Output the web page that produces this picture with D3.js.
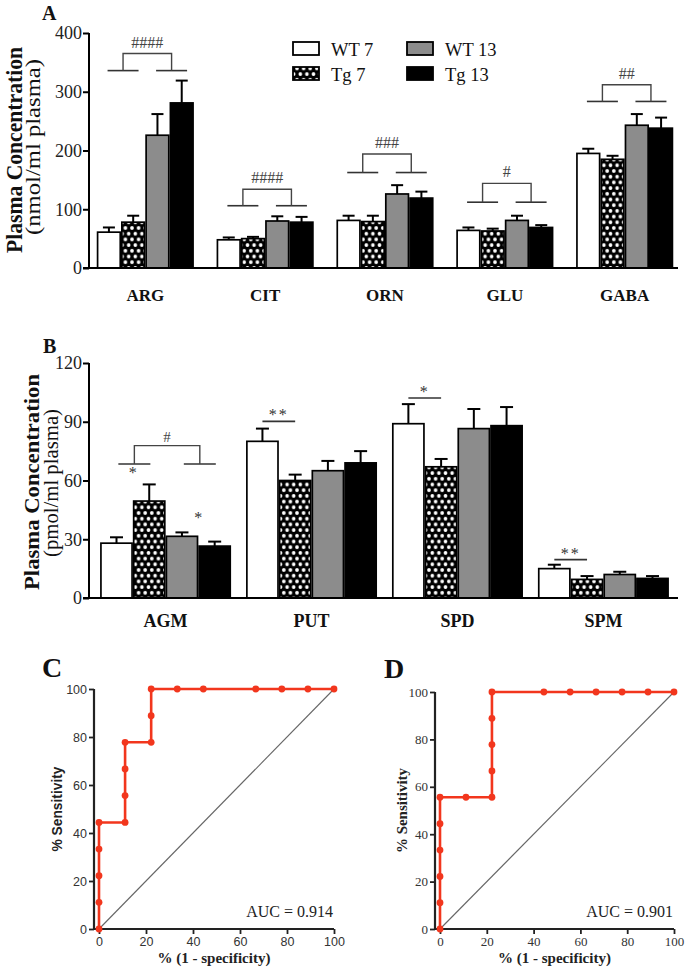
<!DOCTYPE html>
<html><head><meta charset="utf-8">
<script src="https://cdn.jsdelivr.net/npm/d3@7"></script>
<style>body{margin:0;background:#fff}</style>
</head><body>
<svg id="c" width="685" height="973"></svg>
<script>
// ---------- DATA ----------
const seriesNames = ["WT 7", "Tg 7", "WT 13", "Tg 13"];

const aminoCats = ["ARG", "CIT", "ORN", "GLU", "GABA"];
const aminoWT7  = [61, 48, 81, 64, 195];
const aminoTg7  = [78, 50, 79, 63, 185];
const aminoWT13 = [226, 80, 126, 81, 243];
const aminoTg13 = [281, 78, 119, 69, 238];
const aminoWT7Err  = [8, 4, 8, 5, 8];
const aminoTg7Err  = [11, 3, 10, 4, 6];
const aminoWT13Err = [36, 8, 15, 8, 19];
const aminoTg13Err = [38, 9, 11, 4, 18];
const aminoTicks = [0, 100, 200, 300, 400];
const aminoBracketLow  = [336, 106, 162.5, 112, 283.5];
const aminoBracketHigh = [365, 134, 194, 144, 312];
const aminoBracketLabels = ["####", "####", "###", "#", "##"];

const polyCats = ["AGM", "PUT", "SPD", "SPM"];
const polyWT7  = [28, 80, 89, 15];
const polyTg7  = [49.5, 60, 67, 9.5];
const polyWT13 = [31.5, 65, 86.5, 12];
const polyTg13 = [26.5, 69, 88, 10];
const polyWT7Err  = [3, 6.5, 10, 2];
const polyTg7Err  = [8.5, 3, 4, 1.7];
const polyWT13Err = [2, 5, 10, 1.4];
const polyTg13Err = [2.3, 6, 9.5, 1.2];
const polyTicks = [0, 30, 60, 90, 120];
// AGM bracket (#) and stars
const polyBracketCat = "AGM", polyBracketLow = 68.4, polyBracketHigh = 77.8, polyBracketLabel = "#";
const polyPairStarCats = ["AGM", "AGM"], polyPairStarPairs = [0, 1], polyPairStarVals = [64.6, 41.7];
const polyLineCats = ["PUT", "SPD", "SPM"], polyLineVals = [90.2, 102.1, 19.6], polyLineLabels = ["**", "*", "**"];

const rocTicks = [0, 20, 40, 60, 80, 100];
const rocC_fpr = [0, 0, 0, 0, 0, 11.1, 11.1, 11.1, 11.1, 22.2, 22.2, 22.2, 33.3, 44.4, 66.7, 77.8, 88.9, 100];
const rocC_tpr = [0, 11.1, 22.2, 33.3, 44.4, 44.4, 55.6, 66.7, 77.8, 77.8, 88.9, 100, 100, 100, 100, 100, 100, 100];
const rocD_fpr = [0, 0, 0, 0, 0, 0, 11.1, 22.2, 22.2, 22.2, 22.2, 22.2, 44.4, 55.6, 66.7, 77.8, 88.9, 100];
const rocD_tpr = [0, 11.1, 22.2, 33.3, 44.4, 55.6, 55.6, 55.6, 66.7, 77.8, 88.9, 100, 100, 100, 100, 100, 100, 100];
const aucC = "AUC = 0.914", aucD = "AUC = 0.901";

// ---------- DRAWING ----------
const SERIF = "'Liberation Serif','Times New Roman',serif";
const SANS = "'Liberation Sans',Arial,sans-serif";
const svg = d3.select("#c");
const defs = svg.append("defs");
const pw = 6.6, ph = 11.4;
const pat = defs.append("pattern").attr("id", "hatch").attr("patternUnits", "userSpaceOnUse")
  .attr("width", pw).attr("height", ph);
pat.append("rect").attr("width", pw).attr("height", ph).attr("fill", "#000");
[[0,0],[pw,0],[0,ph],[pw,ph],[pw/2,ph/2]].forEach(([cx,cy]) =>
  pat.append("circle").attr("cx", cx).attr("cy", cy).attr("r", 1.85).attr("fill", "#fff"));
const flt = defs.append("filter").attr("id", "soft").attr("x", "-20%").attr("y", "-300%")
  .attr("width", "140%").attr("height", "700%");
flt.append("feGaussianBlur").attr("stdDeviation", 1.6);

const fills = ["#fff", "url(#hatch)", "#8c8c8c", "#000"];

function shadowLine(g, xa, xb, yv) {
  g.append("line").attr("x1", xa).attr("x2", xb).attr("y1", yv + 3).attr("y2", yv + 3)
    .attr("stroke", "#bbb").attr("stroke-width", 2.5).attr("filter", "url(#soft)");
  g.append("line").attr("x1", xa).attr("x2", xb).attr("y1", yv).attr("y2", yv)
    .attr("stroke", "#333").attr("stroke-width", 1.6);
}

function barPanel(o) {
  const g = svg.append("g");
  const y = d3.scaleLinear().domain([0, o.ticks[o.ticks.length - 1]]).range(o.yRange);
  const x0 = d3.scaleBand().domain(o.cats).range(o.xRange).paddingInner(o.padIn).paddingOuter(o.padOut);
  const x1 = d3.scaleBand().domain(d3.range(o.series.length)).range([0, x0.bandwidth()]);
  const bw = x1.bandwidth();
  o.cats.forEach((c, i) => {
    o.series.forEach((s, j) => {
      const bx = x0(c) + x1(j);
      const top = y(s[i]);
      const et = y(s[i] + o.errs[j][i]);
      const cx = bx + bw / 2;
      g.append("line").attr("x1", cx).attr("x2", cx).attr("y1", top).attr("y2", et)
        .attr("stroke", "#000").attr("stroke-width", 2);
      g.append("line").attr("x1", cx - o.capW / 2).attr("x2", cx + o.capW / 2).attr("y1", et).attr("y2", et)
        .attr("stroke", "#000").attr("stroke-width", 2);
      g.append("rect").attr("x", bx + 0.8).attr("y", top).attr("width", bw - 1.6).attr("height", y(0) - top)
        .attr("fill", fills[j]).attr("stroke", "#000").attr("stroke-width", 1.7);
    });
    g.append("text").attr("x", x0(c) + x0.bandwidth() / 2).attr("y", o.catY)
      .attr("text-anchor", "middle").attr("font-family", SERIF).attr("font-weight", "bold")
      .attr("font-size", o.catSize).attr("fill", "#111").text(c);
  });
  const ya = d3.axisLeft(y).tickValues(o.ticks).tickSize(6).tickPadding(1).tickSizeOuter(0);
  const ag = g.append("g").attr("transform", `translate(${o.axisX},0)`).call(ya);
  ag.select(".domain").remove();
  ag.selectAll(".tick line").attr("stroke", "#000").attr("stroke-width", 2);
  ag.selectAll(".tick text").attr("font-family", SERIF).attr("font-size", o.tickSize).attr("fill", "#222");
  g.append("line").attr("x1", o.axisX).attr("x2", o.axisX).attr("y1", y(o.ticks[o.ticks.length - 1])).attr("y2", y(0) + 1)
    .attr("stroke", "#000").attr("stroke-width", 2);
  g.append("line").attr("x1", o.axisX - 6).attr("x2", o.axisEnd).attr("y1", y(0)).attr("y2", y(0))
    .attr("stroke", "#000").attr("stroke-width", 2);
  o.ylabels.forEach(l => {
    g.append("text").attr("transform", `translate(${l.x},${l.y}) rotate(-90)`).attr("text-anchor", "middle")
      .attr("font-family", SERIF).attr("font-weight", l.bold ? "bold" : "normal").attr("font-size", l.size)
      .attr("textLength", l.len).attr("lengthAdjust", "spacingAndGlyphs").attr("fill", "#111").text(l.t);
  });
  g.append("text").attr("x", o.letter.x).attr("y", o.letter.y).attr("font-family", SERIF).attr("font-weight", "bold")
    .attr("font-size", o.letter.size).attr("fill", "#111").text(o.letter.t);
  return { g, y, x0, x1, bw };
}

// ----- Panel A -----
const A = barPanel({
  cats: aminoCats, series: [aminoWT7, aminoTg7, aminoWT13, aminoTg13],
  errs: [aminoWT7Err, aminoTg7Err, aminoWT13Err, aminoTg13Err],
  ticks: aminoTicks, yRange: [268, 33], xRange: [86, 684], padIn: 0.19, padOut: 0.09,
  axisX: 89, axisEnd: 678, capW: 12, catY: 301, catSize: 17, tickSize: 18,
  ylabels: [{ t: "Plasma Concentration", x: 22, y: 150, size: 23, len: 206, bold: true },
            { t: "(nmol/ml plasma)", x: 40, y: 147, size: 21, len: 176, bold: false }],
  letter: { t: "A", x: 42, y: 20, size: 20 }
});
aminoCats.forEach((c, i) => {
  const { g, y, x0, bw } = A;
  const half = 15.5;
  const c0 = x0(c) + bw + 2, c1 = x0(c) + 3 * bw + 2;
  const yl = y(aminoBracketLow[i]), yh = y(aminoBracketHigh[i]);
  shadowLine(g, c0 - half, c0 + half, yl);
  shadowLine(g, c1 - half, c1 + half, yl);
  g.append("path").attr("d", `M${c0},${yl}V${yh}H${c1}V${yl}`).attr("fill", "none")
    .attr("stroke", "#444").attr("stroke-width", 1.4);
  g.append("text").attr("x", (c0 + c1) / 2).attr("y", yh - 6).attr("text-anchor", "middle")
    .attr("font-family", SERIF).attr("font-size", 16).attr("fill", "#444").text(aminoBracketLabels[i]);
});
const legX = [293, 407], legY = [42, 67];
seriesNames.forEach((s, j) => {
  const col = j < 2 ? 0 : 1, row = j % 2;
  A.g.append("rect").attr("x", legX[col]).attr("y", legY[row]).attr("width", 26).attr("height", 13)
    .attr("fill", fills[j]).attr("stroke", "#000").attr("stroke-width", 1.8);
  A.g.append("text").attr("x", legX[col] + 38).attr("y", legY[row] + 13.5).attr("font-family", SERIF)
    .attr("font-size", 18.5).attr("fill", "#111").text(s);
});

// ----- Panel B -----
const B = barPanel({
  cats: polyCats, series: [polyWT7, polyTg7, polyWT13, polyTg13],
  errs: [polyWT7Err, polyTg7Err, polyWT13Err, polyTg13Err],
  ticks: polyTicks, yRange: [598, 363], xRange: [87, 682], padIn: 0.103, padOut: 0.09,
  axisX: 89, axisEnd: 678, capW: 13, catY: 627, catSize: 18, tickSize: 18,
  ylabels: [{ t: "Plasma Concentration", x: 39, y: 482, size: 21, len: 216, bold: true },
            { t: "(pmol/ml plasma)", x: 58, y: 483, size: 20, len: 148, bold: false }],
  letter: { t: "B", x: 43, y: 353, size: 20 }
});
{
  const { g, y, x0, bw } = B;
  const half = 16;
  const c = polyBracketCat;
  const c0 = x0(c) + bw + 1.5, c1 = x0(c) + 3 * bw + 1.5;
  const yl = y(polyBracketLow), yh = y(polyBracketHigh);
  shadowLine(g, c0 - half, c0 + half, yl);
  shadowLine(g, c1 - half, c1 + half, yl);
  g.append("path").attr("d", `M${c0},${yl}V${yh}H${c1}V${yl}`).attr("fill", "none")
    .attr("stroke", "#444").attr("stroke-width", 1.4);
  g.append("text").attr("x", (c0 + c1) / 2).attr("y", yh - 4).attr("text-anchor", "middle")
    .attr("font-family", SERIF).attr("font-size", 15).attr("fill", "#444").text(polyBracketLabel);
  polyPairStarCats.forEach((pc, k) => {
    const cx = x0(pc) + (2 * polyPairStarPairs[k] + 1) * bw;
    g.append("text").attr("x", cx).attr("y", y(polyPairStarVals[k]) + 7).attr("text-anchor", "middle")
      .attr("font-family", SERIF).attr("font-size", 16).attr("fill", "#333").text("*");
  });
  polyLineCats.forEach((pc, k) => {
    const xa = x0(pc) + bw / 2, xb = x0(pc) + 1.5 * bw;
    const yv = y(polyLineVals[k]);
    shadowLine(g, xa, xb, yv);
    g.append("text").attr("x", (xa + xb) / 2).attr("y", yv - 1).attr("text-anchor", "middle")
      .attr("font-family", SERIF).attr("font-size", 16).attr("letter-spacing", 2).attr("fill", "#333")
      .text(polyLineLabels[k]);
  });
}

// ----- ROC panels -----
function rocPanel(o) {
  const g = svg.append("g");
  const x = d3.scaleLinear().domain([0, 100]).range(o.xr);
  const y = d3.scaleLinear().domain([0, 100]).range(o.yr);
  const ax0 = o.xr[0] - 5;
  g.append("line").attr("x1", x(0)).attr("y1", y(0)).attr("x2", x(100)).attr("y2", y(100))
    .attr("stroke", "#666").attr("stroke-width", 1.1);
  const ya = d3.axisLeft(y).tickValues(rocTicks).tickSize(5).tickPadding(2).tickSizeOuter(0);
  const yg = g.append("g").attr("transform", `translate(${ax0},0)`).call(ya);
  const xa = d3.axisBottom(x).tickValues(rocTicks).tickSize(5).tickPadding(3).tickSizeOuter(0);
  const xg = g.append("g").attr("transform", `translate(0,${y(0)})`).call(xa);
  [yg, xg].forEach(a => {
    a.select(".domain").remove();
    a.selectAll(".tick line").attr("stroke", "#222").attr("stroke-width", 1.8);
    a.selectAll(".tick text").attr("font-family", o.tickFont).attr("font-size", o.tickSize).attr("fill", "#333");
  });
  g.append("line").attr("x1", ax0).attr("x2", ax0).attr("y1", y(100)).attr("y2", y(0) + 1)
    .attr("stroke", "#222").attr("stroke-width", 2.2);
  g.append("line").attr("x1", ax0).attr("x2", x(100)).attr("y1", y(0)).attr("y2", y(0))
    .attr("stroke", "#222").attr("stroke-width", 2.2);
  const idx = d3.range(o.fpr.length);
  const line = d3.line().x(i => x(o.fpr[i])).y(i => y(o.tpr[i]));
  g.append("path").attr("d", line(idx)).attr("fill", "none").attr("stroke", "#f2361d").attr("stroke-width", 2.6);
  g.selectAll("circle.pt").data(idx).enter().append("circle").attr("class", "pt")
    .attr("cx", i => x(o.fpr[i])).attr("cy", i => y(o.tpr[i])).attr("r", 3.4).attr("fill", "#f2361d");
  g.append("text").attr("x", x(100) - 1).attr("y", y(0) - 12).attr("text-anchor", "end")
    .attr("font-family", SERIF).attr("font-size", 16).attr("fill", "#222").text(o.auc);
  g.append("text").attr("transform", `translate(${o.ylab.x},${(y(0) + y(100)) / 2}) rotate(-90)`)
    .attr("text-anchor", "middle").attr("font-family", o.ylab.font).attr("font-weight", "bold")
    .attr("font-size", o.ylab.size).attr("textLength", 85).attr("lengthAdjust", "spacingAndGlyphs")
    .attr("fill", "#222").text("% Sensitivity");
  g.append("text").attr("x", (ax0 + x(100)) / 2).attr("y", 963).attr("text-anchor", "middle")
    .attr("font-family", SERIF).attr("font-weight", "bold").attr("font-size", 15).attr("fill", "#222")
    .text("% (1 - specificity)");
  g.append("text").attr("x", o.letter.x).attr("y", o.letter.y).attr("font-family", SERIF).attr("font-weight", "bold")
    .attr("font-size", 28).attr("fill", "#111").text(o.letter.t);
}
rocPanel({ xr: [99, 334], yr: [929, 689], fpr: rocC_fpr, tpr: rocC_tpr, auc: aucC,
  tickFont: SANS, tickSize: 12.5, ylab: { x: 62, font: SANS, size: 14 }, letter: { t: "C", x: 42, y: 677 } });
rocPanel({ xr: [440, 674], yr: [929, 692], fpr: rocD_fpr, tpr: rocD_tpr, auc: aucD,
  tickFont: SERIF, tickSize: 13, ylab: { x: 407, font: SERIF, size: 15 }, letter: { t: "D", x: 384, y: 678 } });
</script>
</body></html>
